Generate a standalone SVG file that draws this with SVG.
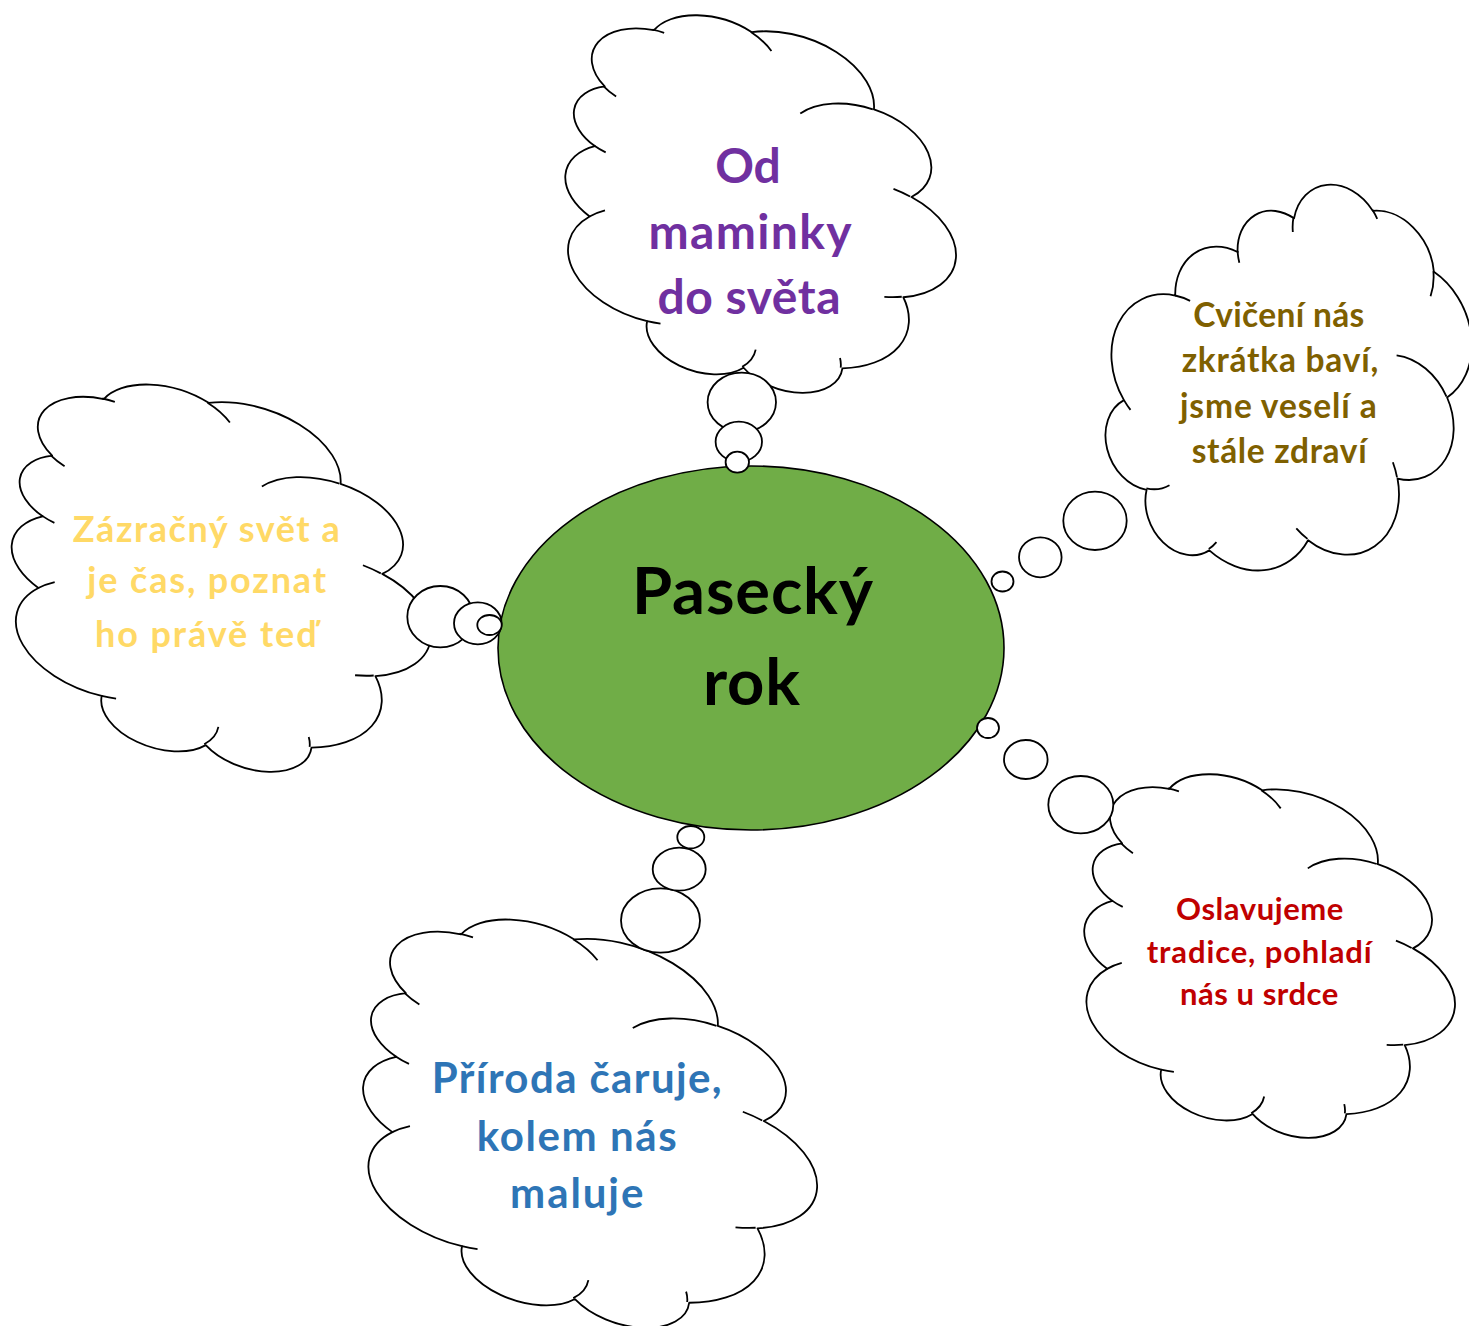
<svg xmlns="http://www.w3.org/2000/svg" width="1469" height="1326" viewBox="0 0 1469 1326">
<defs>
<style>
.cl{fill:#fff;stroke:#000;stroke-width:1.8;vector-effect:non-scaling-stroke;stroke-linejoin:round}
.st{fill:none;stroke:#000;stroke-width:1.8;vector-effect:non-scaling-stroke}
.bb{fill:#fff;stroke:#000;stroke-width:1.8}
.t{font-family:Lato,"Open Sans","Noto Sans",sans-serif;font-weight:700;text-anchor:middle}
</style>
<path id="cloud" class="cl" d="M3900 14370 A6753 9190 0 0 1 14005 5202 A5333 7267 0 0 1 22457 3431 A4365 5945 0 0 1 29833 2479 A4857 6595 0 0 1 38318 5574 A5333 7273 0 0 1 41819 15458 A6775 9220 0 0 1 37406 30203 A5785 7867 0 0 1 28557 36813 A6752 9215 0 0 1 16482 39266 A7720 10543 0 0 1 5808 35474 A4360 5918 0 0 1 2116 25552 A4345 5945 0 0 1 3900 14370 Z"/>
<path id="stubs" class="st" d="M4693 26177 A4345 5945 0 0 1 2160 25380 M6928 34899 A4360 5918 0 0 1 5820 35281 M16478 39090 A6752 9215 0 0 1 15809 37348 M28827 34751 A6752 9215 0 0 1 28560 36660 M34129 22954 A5785 7867 0 0 1 37381 30090 M41798 15354 A5333 7273 0 0 1 40350 18030 M38324 5426 A4857 6595 0 0 1 38401 6690 M29078 3952 A4857 6595 0 0 1 29820 2339 M22141 4720 A4365 5945 0 0 1 22500 3330 M14000 5192 A6753 9190 0 0 1 15300 6540 M4127 15789 A6753 9190 0 0 1 3900 14371"/>
</defs>
<rect width="1469" height="1326" fill="#fff"/>

<g id="node-pasecky-rok">
<ellipse cx="751" cy="648" rx="253" ry="182" fill="#70AD47" stroke="#000" stroke-width="1.6"/>
<text class="t" font-size="65" fill="#000"><tspan x="752.5" y="614" textLength="241">Pasecký</tspan><tspan x="751.5" y="705" textLength="97">rok</tspan></text>
</g>

<g id="node-od-maminky">
<g transform="translate(756.7 206) rotate(-72) scale(0.008102 0.009491) translate(-21600 -21600)"><use href="#cloud"/><use href="#stubs"/></g>
<text class="t" font-size="48" fill="#7030A0"><tspan x="748" y="183">Od</tspan><tspan x="750" y="248.5" textLength="203">maminky</tspan><tspan x="749" y="313.5" textLength="183">do světa</tspan></text>
</g>

<g id="node-zazracny">
<g transform="translate(216.9 580.3) rotate(-72) scale(0.008222 0.010208) translate(-21600 -21600)"><use href="#cloud"/><use href="#stubs"/></g>
<text class="t" font-size="36" fill="#FFD966"><tspan x="206.3" y="541.7" textLength="267">Zázračný svět a</tspan><tspan x="206.7" y="593.3" textLength="238.7">je čas, poznat</tspan><tspan x="205.8" y="646.7" textLength="221.7">ho právě teď</tspan></text>
</g>

<g id="node-cviceni">
<g transform="translate(1290.9 390.3) rotate(-24) scale(0.008843 0.008148) translate(-21600 -21600)"><use href="#cloud"/><use href="#stubs"/></g>
<text class="t" font-size="33.5" fill="#7F6000"><tspan x="1278.8" y="326.7" textLength="171">Cvičení nás</tspan><tspan x="1280" y="372.2" textLength="196.6">zkrátka baví,</tspan><tspan x="1278.3" y="417.7" textLength="196.7">jsme veselí a</tspan><tspan x="1279.2" y="463.2" textLength="175">stále zdraví</tspan></text>
</g>

<g id="node-oslavujeme">
<g transform="translate(1265.9 957.9) rotate(-72) scale(0.007829 0.009) translate(-21600 -21600)"><use href="#cloud"/><use href="#stubs"/></g>
<text class="t" font-size="31" fill="#C00000"><tspan x="1259.7" y="920" textLength="167.3">Oslavujeme</tspan><tspan x="1259.2" y="962.5" textLength="225">tradice, pohladí</tspan><tspan x="1259.2" y="1005" textLength="158.3">nás u srdce</tspan></text>
</g>

<g id="node-priroda">
<g transform="translate(585.2 1126) rotate(-72) scale(0.008611 0.011065) translate(-21600 -21600)"><use href="#cloud"/><use href="#stubs"/></g>
<text class="t" font-size="42" fill="#2E75B6"><tspan x="576.7" y="1092.7" textLength="290">Příroda čaruje,</tspan><tspan x="576.7" y="1150.7" textLength="200">kolem nás</tspan><tspan x="576.7" y="1208.3" textLength="133.3">maluje</tspan></text>
</g>

<g id="connectors">
<g id="trail-od">
<ellipse class="bb" cx="741.8" cy="402.3" rx="34.2" ry="29.7"/>
<ellipse class="bb" cx="738.8" cy="441.7" rx="23.2" ry="20"/>
<ellipse class="bb" cx="737.3" cy="462.2" rx="11.7" ry="10.5"/>
</g>
<g id="trail-zazracny">
<ellipse class="bb" cx="440.3" cy="616.7" rx="33" ry="30.7"/>
<ellipse class="bb" cx="477.8" cy="623.3" rx="23.8" ry="21"/>
<ellipse class="bb" cx="489.5" cy="625" rx="12.2" ry="10"/>
</g>
<g id="trail-cviceni">
<ellipse class="bb" cx="1095" cy="520.8" rx="31.7" ry="29.2"/>
<ellipse class="bb" cx="1040.3" cy="557.3" rx="21.3" ry="20"/>
<ellipse class="bb" cx="1002.5" cy="581.5" rx="11" ry="10"/>
</g>
<g id="trail-oslavujeme">
<ellipse class="bb" cx="1080.8" cy="804.7" rx="32.5" ry="28.7"/>
<ellipse class="bb" cx="1025.8" cy="759.5" rx="21.8" ry="19.5"/>
<ellipse class="bb" cx="988" cy="728" rx="11" ry="10"/>
</g>
<g id="trail-priroda">
<ellipse class="bb" cx="660.5" cy="920.5" rx="39.5" ry="32.2"/>
<ellipse class="bb" cx="679.2" cy="869.2" rx="26.5" ry="21.5"/>
<ellipse class="bb" cx="690.8" cy="837.2" rx="13.5" ry="11.2"/>
</g>
</g>
</svg>
